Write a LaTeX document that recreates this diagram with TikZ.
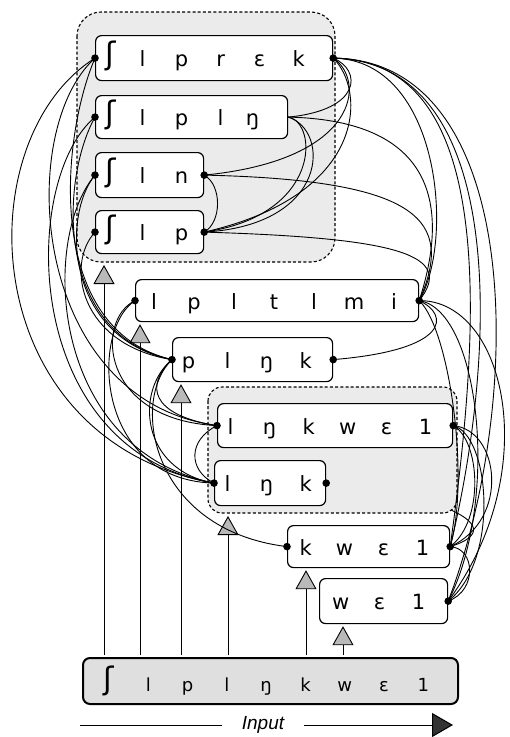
\documentclass[tikz,border=0pt]{standalone}
\usepackage{fontspec}
\newfontfamily\ipafont{DejaVu Sans}
\newfontfamily\labfont{Liberation Sans}
\usetikzlibrary{arrows.meta}
\pgfdeclarelayer{hidden}
\pgfdeclarelayer{back}
\pgfsetlayers{hidden,back,main}
\newlength\segw
\setlength\segw{39pt}
\newcommand\segx[1]{\makebox[\segw]{#1}}
\newcommand\eshbox[1]{\makebox[#1]{\raisebox{2pt}{\fontsize{31}{31}\selectfont ʃ}}}
\newcommand\wordnode[6]{%
  \pgfmathsetmacro\wnw{#4-#2}%
  \pgfmathsetmacro\wnh{#5-#3}%
  \node[wordbox, text width=\wnw pt, minimum height=\wnh pt] (#1) at (#2,#3) {#6};}
\tikzset{
  wordbox/.style={draw, line width=1.2pt, rounded corners=6pt, fill=white, anchor=north west,
    inner xsep=0pt, inner ysep=0pt, align=left, text height=20pt, text depth=3pt,
    font=\ipafont\fontsize{21}{21}\selectfont},
  inbox/.style={draw, line width=2pt, rounded corners=7pt, fill=gray!25, anchor=north west,
    inner xsep=0pt, inner ysep=0pt, align=left, text height=22pt, text depth=2pt,
    font=\ipafont\fontsize{18}{18}\selectfont},
  grp/.style={draw, dash pattern=on 3pt off 2.2pt, line width=1.1pt, fill=gray!16},
  conn/.style={line width=0.9pt},
  uparrow/.style={line width=0.9pt, -{Triangle[width=21pt,length=19pt,fill=gray!55]}, shorten >=2pt},
  bigarrow/.style={line width=1pt, -{Triangle[width=24pt,length=21pt,fill=gray!40!black]}},
  inlabel/.style={font=\labfont\itshape\fontsize{19}{19}\selectfont, inner xsep=20pt, inner ysep=0pt},
  dotc/.style={fill=black}
}
\begin{document}
\begin{tikzpicture}[x=1pt, y=-1pt]
\useasboundingbox (0,0) rectangle (510,737);

% groups
\begin{pgfonlayer}{back}
  \draw[grp, rounded corners=24pt] (77,12) rectangle (335,262);
  \draw[grp, rounded corners=14pt] (208,387) rectangle (457,513);
\end{pgfonlayer}

% word boxes
\wordnode{A}{95}{35}{332}{80}{\hspace*{2.5pt}\eshbox{25pt}\segx{l}\segx{p}\segx{r}\segx{ɛ}\segx{k}}
\wordnode{B}{95}{95}{287}{138}{\hspace*{2.5pt}\eshbox{25pt}\segx{l}\segx{p}\segx{l}\makebox[25pt]{ŋ}}
\wordnode{C}{95}{152}{203}{197}{\hspace*{2.5pt}\eshbox{25pt}\segx{l}\segx{n}}
\wordnode{D}{95}{210}{203}{253}{\hspace*{2.5pt}\eshbox{25pt}\segx{l}\segx{p}}
\wordnode{E}{135}{279}{418}{321}{\setlength\segw{40pt}\hspace*{-1.5pt}\segx{l}\segx{p}\segx{l}\segx{t}\segx{l}\segx{m}\segx{i}}
\wordnode{F}{172}{337}{332}{381}{\hspace*{-3.5pt}\segx{p}\segx{l}\segx{ŋ}\segx{k}}
\wordnode{G}{217}{403}{452}{447}{\hspace*{-6.5pt}\segx{l}\segx{ŋ}\segx{k}\segx{w}\segx{ɛ}\segx{1}}
\wordnode{H}{214}{460}{325}{505}{\hspace*{-6.5pt}\segx{l}\segx{ŋ}\segx{k}}
\wordnode{I}{287}{525}{449}{567}{\hspace*{-1.5pt}\segx{k}\segx{w}\segx{ɛ}\segx{1}}
\wordnode{J}{319}{578}{447}{623}{\hspace*{1.5pt}\segx{w}\segx{ɛ}\segx{1}}

% input box
\node[inbox, text width=375pt, minimum height=46pt] (inp) at (82,657)
  {\setlength\segw{39.3pt}\hspace*{6.35pt}\eshbox{39.3pt}\segx{l}\segx{p}\segx{l}\segx{ŋ}\segx{k}\segx{w}\segx{ɛ}\segx{1}};

% input label and arrow
\node[inlabel] (lbl) at (263,725) {Input};
\coordinate (al) at (80,725);
\coordinate (ar) at (453,725);
\draw[line width=1pt] (al) -- (lbl.west);
\draw[bigarrow] (lbl.east) -- (ar);

% vertical arrows from the input
\coordinate (s1) at (104,655);
\coordinate (s2) at (140,655);
\coordinate (s3) at (181,655);
\coordinate (s4) at (228,655);
\coordinate (s5) at (306,655);
\coordinate (s6) at (343,655);
\coordinate (g1b) at (104,263);
\coordinate (g2b) at (228,514);
\draw[uparrow] (s1) -- (g1b);
\draw[uparrow] (s2) -- (s2 |- E.south);
\draw[uparrow] (s3) -- (s3 |- F.south);
\draw[uparrow] (s4) -- (g2b);
\draw[uparrow] (s5) -- (s5 |- I.south);
\draw[uparrow] (s6) -- (s6 |- J.south);

% hidden connector (under group 2)
\begin{pgfonlayer}{hidden}
  \draw[conn] (H.east) .. controls (420,490) and (520,525) .. (I.east);
\end{pgfonlayer}

% right side connectors, group 1
\draw[conn] (A.east) .. controls (362,70) and (362,110) .. (B.east);
\draw[conn] (A.east) .. controls (366,80) and (360,160) .. (C.east);
\draw[conn] (A.east) .. controls (366,90) and (368,195) .. (D.east);
\draw[conn] (B.east) .. controls (330,130) and (330,225) .. (D.east);
\draw[conn] (B.east) .. controls (318,122) and (322,215) .. (D.east);
\draw[conn] (C.east) .. controls (222,185) and (222,222) .. (D.east);
% to E
\draw[conn] (A.east) .. controls (440,60) and (455,240) .. (E.east);
\draw[conn] (B.east) .. controls (420,120) and (455,190) .. (E.east);
\draw[conn] (C.east) .. controls (420,180) and (455,220) .. (E.east);
\draw[conn] (D.east) .. controls (400,238) and (455,255) .. (E.east);
\draw[conn] (E.east) .. controls (450,315) and (450,350) .. (F.east);
% long ones from A
\draw[conn] (A.east) .. controls (500,60) and (480,330) .. (I.east);
\draw[conn] (A.east) .. controls (508,62) and (498,350) .. (I.east);
\draw[conn] (A.east) .. controls (525,60) and (525,400) .. (J.east);
% from E
\draw[conn] (E.east) .. controls (450,330) and (470,480) .. (I.east);
\draw[conn] (E.east) .. controls (480,310) and (500,500) .. (J.east);
\draw[conn] (E.east) .. controls (505,300) and (545,470) .. (J.east);
% from G
\draw[conn] (G.east) .. controls (500,430) and (510,520) .. (I.east);
\draw[conn] (G.east) .. controls (480,440) and (485,520) .. (I.east);
\draw[conn] (G.east) .. controls (490,435) and (500,560) .. (J.east);
% I to J
\draw[conn] (I.east) .. controls (475,548) and (478,590) .. (J.east);

% left side connectors
\draw[conn] (A.west) .. controls (60,140) and (45,330) .. (F.west);
\draw[conn] (B.west) .. controls (60,180) and (55,335) .. (F.west);
\draw[conn] (C.west) .. controls (62,215) and (65,338) .. (F.west);
\draw[conn] (D.west) .. controls (65,265) and (80,345) .. (F.west);
\draw[conn] (A.west) .. controls (15,130) and (30,400) .. (G.west);
\draw[conn] (A.west) .. controls (-35,140) and (-25,440) .. (H.west);
\draw[conn] (B.west) .. controls (20,180) and (20,450) .. (H.west);
\draw[conn] (C.west) .. controls (40,240) and (50,450) .. (H.west);
\draw[conn] (E.west) .. controls (95,320) and (100,420) .. (G.west);
\draw[conn] (E.west) .. controls (90,330) and (95,480) .. (H.west);
\draw[conn] (F.west) .. controls (135,390) and (140,470) .. (H.west);
\draw[conn] (F.west) .. controls (145,385) and (150,415) .. (G.west);
\draw[conn] (F.west) .. controls (130,400) and (150,530) .. (I.west);
\draw[conn] (G.west) .. controls (188,440) and (188,470) .. (H.west);

% dots
\foreach \p in {A.west,A.east,B.west,C.west,C.east,D.west,D.east,E.west,E.east,
  F.west,F.east,G.west,G.east,H.west,H.east,I.west,I.east,J.east}
  \fill[dotc] (\p) circle (3.8pt);
\end{tikzpicture}
\end{document}
